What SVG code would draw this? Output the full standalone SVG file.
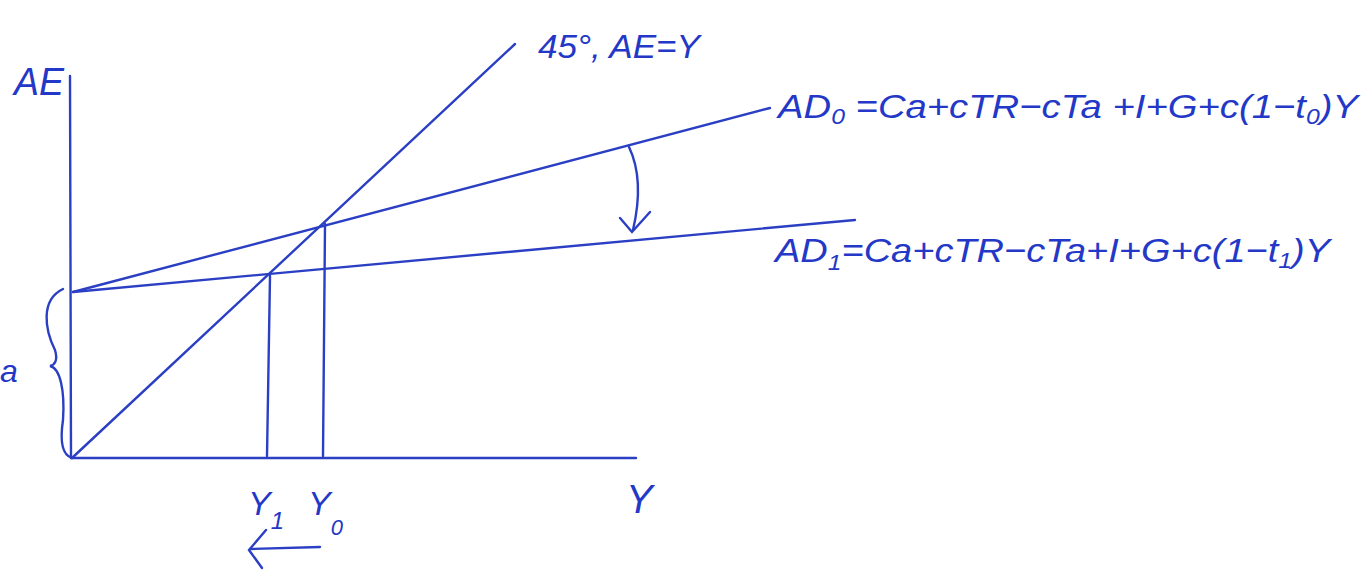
<svg xmlns="http://www.w3.org/2000/svg" width="1367" height="584" viewBox="0 0 1367 584">
<defs>
<style>
.ln{stroke:#2b3fc4;stroke-width:2.4;fill:none;stroke-linecap:round}
.tx{font-family:"Liberation Sans",Arial,sans-serif;font-style:italic;fill:#2438c8}
</style>
</defs>
<rect width="1367" height="584" fill="#ffffff"/>
<g id="connectors">
<line class="ln" x1="70" y1="76" x2="71" y2="458"/>
<line class="ln" x1="71" y1="458" x2="636" y2="458"/>
<line class="ln" x1="72" y1="458" x2="515" y2="44"/>
<line class="ln" x1="73" y1="292" x2="770" y2="108"/>
<line class="ln" x1="73" y1="292" x2="855" y2="220"/>
<line class="ln" x1="325" y1="224" x2="323" y2="456"/>
<line class="ln" x1="270" y1="276" x2="267" y2="456"/>
<path class="ln" d="M63,289 C40,300 45,330 55,350 C58,360 55,365 50,366 C60,368 65,390 63,420 C60,440 62,455 72,458"/>
<path class="ln" d="M629,147 C640,170 640,200 633,230"/>
<path class="ln" d="M620,218 L632,232 L650,212"/>
<path class="ln" d="M320,547 L250,549"/>
<path class="ln" d="M266,530 L249,550 L262,568"/>
</g>
<g id="label-ae"><text class="tx" x="14" y="95" font-size="38" textLength="50" lengthAdjust="spacingAndGlyphs">AE</text></g>
<g id="label-45"><text class="tx" x="538" y="58" font-size="34" textLength="162" lengthAdjust="spacingAndGlyphs">45°, AE=Y</text></g>
<g id="label-ad0"><text class="tx" x="778" y="118" font-size="34" textLength="580" lengthAdjust="spacingAndGlyphs">AD<tspan font-size="22" dy="6">0</tspan><tspan dy="-6"> =Ca+cTR−cTa +I+G+c(1−t</tspan><tspan font-size="22" dy="6">0</tspan><tspan dy="-6">)Y</tspan></text></g>
<g id="label-ad1"><text class="tx" x="775" y="262" font-size="34" textLength="555" lengthAdjust="spacingAndGlyphs">AD<tspan font-size="22" dy="8">1</tspan><tspan dy="-8">=Ca+cTR−cTa+I+G+c(1−t</tspan><tspan font-size="22" dy="6">1</tspan><tspan dy="-6">)Y</tspan></text></g>
<g id="label-a"><text class="tx" x="0" y="382" font-size="32">a</text></g>
<g id="label-y"><text class="tx" x="626" y="513" font-size="40">Y</text></g>
<g id="label-y1"><text class="tx" x="248" y="515" font-size="34">Y<tspan font-size="24" dy="14">1</tspan></text></g>
<g id="label-y0"><text class="tx" x="308" y="515" font-size="34">Y<tspan font-size="22" dy="20">0</tspan></text></g>
</svg>
